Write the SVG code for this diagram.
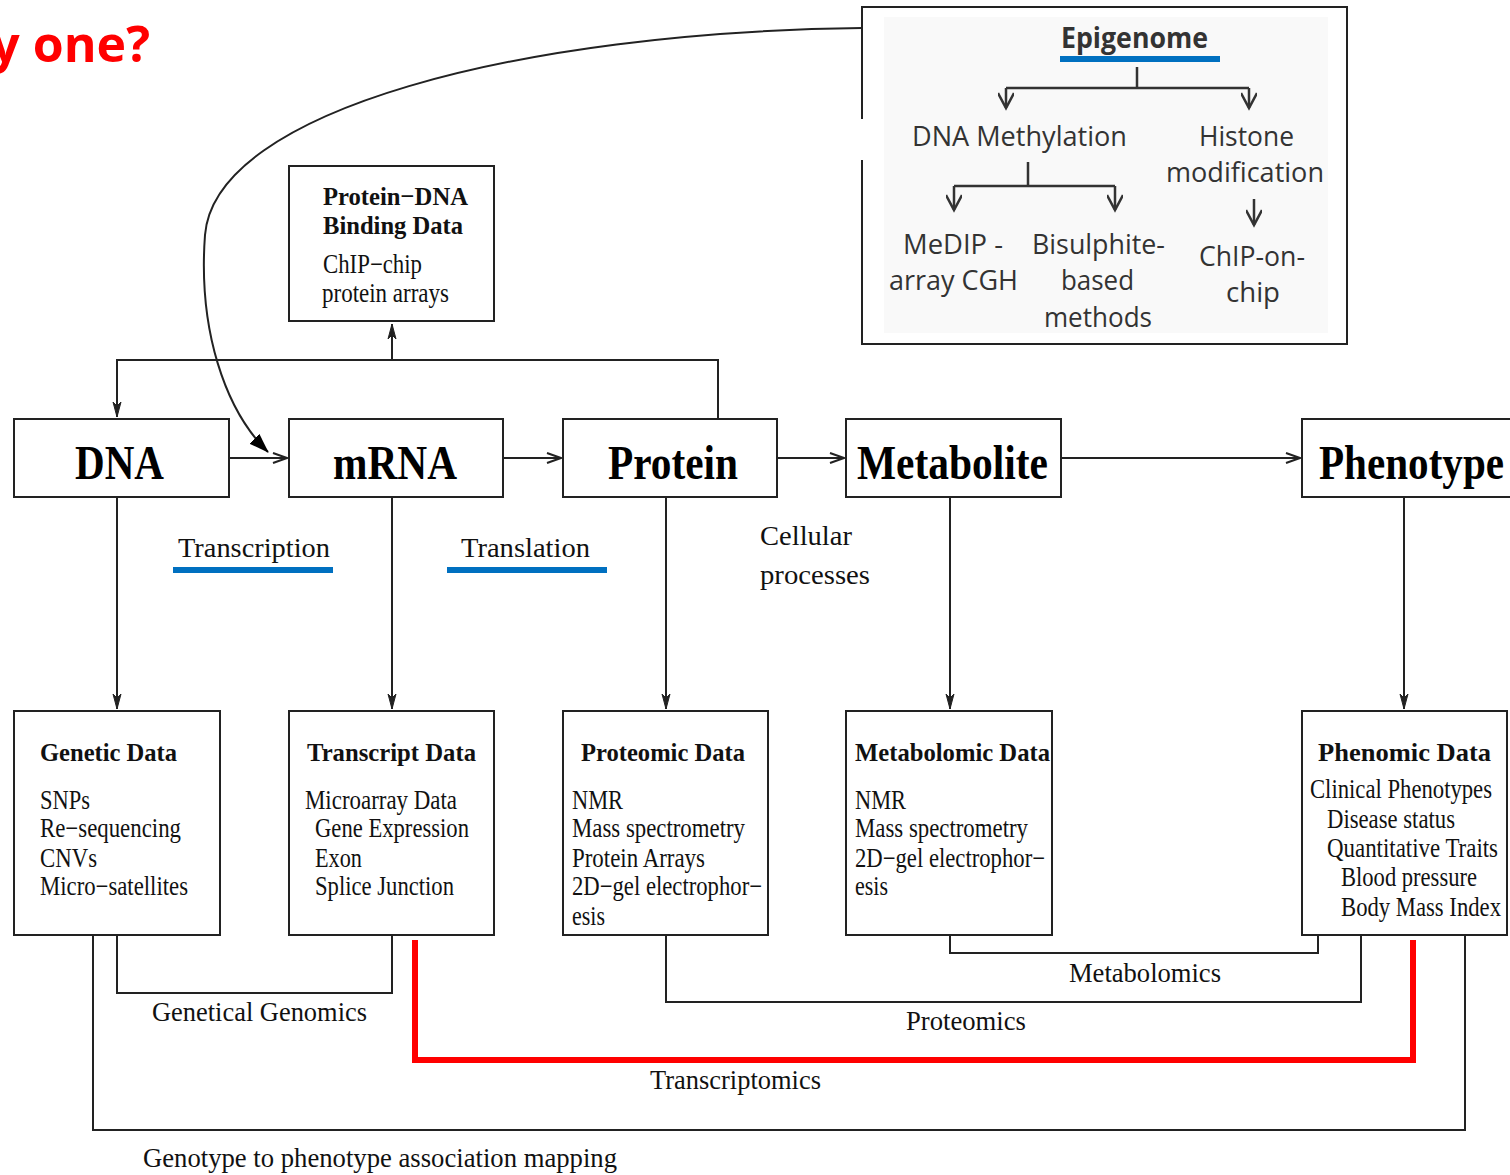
<svg xmlns="http://www.w3.org/2000/svg" width="1510" height="1175" viewBox="0 0 1510 1175">
<style>
.box{fill:#fff;stroke:#222;stroke-width:2}
.ln{fill:none;stroke:#222;stroke-width:2}
.big{font-family:"Liberation Serif",serif;font-weight:bold;font-size:48px;fill:#000}
.t{font-family:"Liberation Serif",serif;font-size:27px;fill:#111}
.tb{font-family:"Liberation Serif",serif;font-size:26px;font-weight:bold;fill:#111}
.ep{font-family:"Open Sans","Liberation Sans",sans-serif;font-size:27px;fill:#333}
.epb{font-family:"Open Sans","Liberation Sans",sans-serif;font-size:28px;font-weight:bold;fill:#333}
.blue{fill:#0070c0}
</style>
<defs>
<marker id="arr" viewBox="0 0 16 12" refX="15" refY="6" markerWidth="16" markerHeight="12" markerUnits="userSpaceOnUse" orient="auto">
<path d="M1,1 L15,6 L1,11" fill="none" stroke="#222" stroke-width="2"/>
</marker>
<marker id="arrv" viewBox="0 0 16 10" refX="15" refY="5" markerWidth="16" markerHeight="10" markerUnits="userSpaceOnUse" orient="auto">
<path d="M0,1 L15,5 L0,9 L4,5 Z" fill="#222" stroke="#222" stroke-width="1"/>
</marker>
<marker id="fill" viewBox="0 0 20 14" refX="19" refY="7" markerWidth="20" markerHeight="14" markerUnits="userSpaceOnUse" orient="auto">
<path d="M0,0 L20,7 L0,14 Z" fill="#000"/>
</marker>
<marker id="epi" viewBox="0 0 20 16" refX="16" refY="8" markerWidth="20" markerHeight="16" markerUnits="userSpaceOnUse" orient="auto">
<path d="M1,0 L16,8 L1,16" fill="none" stroke="#333" stroke-width="2.5"/>
</marker>
</defs>
<rect width="1510" height="1175" fill="#fff"/>

<text x="150" y="62" text-anchor="end" font-family="'Open Sans','Liberation Sans',sans-serif" font-weight="bold" font-size="50" fill="#ff0000">y one?</text>

<g id="epigenome">
<rect x="862" y="7" width="485" height="337" class="box"/>
<rect x="884" y="17" width="444" height="316" fill="#f9f9f9"/>
<rect x="858" y="119" width="8" height="41" fill="#fff"/>
<text class="epb" x="1061" y="48" textLength="147" lengthAdjust="spacingAndGlyphs">Epigenome</text>
<rect x="1060" y="56" width="160" height="6" class="blue"/>
<g fill="none" stroke="#333" stroke-width="2.5">
<path d="M1137,67 V88"/>
<path d="M1006,88 H1249"/>
<path d="M1006,88 V108" marker-end="url(#epi)"/>
<path d="M1249,88 V108" marker-end="url(#epi)"/>
<path d="M1028,162 V186"/>
<path d="M954,186 H1115"/>
<path d="M954,186 V210" marker-end="url(#epi)"/>
<path d="M1115,186 V210" marker-end="url(#epi)"/>
<path d="M1254,199 V225" marker-end="url(#epi)"/>
</g>
<text class="ep" x="912" y="146" textLength="215" lengthAdjust="spacingAndGlyphs">DNA Methylation</text>
<text class="ep" x="1199" y="146" textLength="95" lengthAdjust="spacingAndGlyphs">Histone</text>
<text class="ep" x="1166" y="182" textLength="158" lengthAdjust="spacingAndGlyphs">modification</text>
<text class="ep" x="903" y="254" textLength="100" lengthAdjust="spacingAndGlyphs">MeDIP -</text>
<text class="ep" x="889" y="290" textLength="129" lengthAdjust="spacingAndGlyphs">array CGH</text>
<text class="ep" x="1032" y="254" textLength="133" lengthAdjust="spacingAndGlyphs">Bisulphite-</text>
<text class="ep" x="1061" y="290" textLength="73" lengthAdjust="spacingAndGlyphs">based</text>
<text class="ep" x="1044" y="327" textLength="108" lengthAdjust="spacingAndGlyphs">methods</text>
<text class="ep" x="1199" y="266" textLength="106" lengthAdjust="spacingAndGlyphs">ChIP-on-</text>
<text class="ep" x="1226" y="302" textLength="54" lengthAdjust="spacingAndGlyphs">chip</text>
</g>

<g id="connectors">
<path class="ln" d="M862,28 C520,32 215,110 205,235 C198,330 225,410 268,452" marker-end="url(#fill)"/>
<path class="ln" d="M718,419 V360 H117 V417" marker-end="url(#arrv)"/>
<path class="ln" d="M392,360 V324" marker-end="url(#arrv)"/>
<path class="ln" d="M229,458 H287" marker-end="url(#arr)"/>
<path class="ln" d="M503,458 H561" marker-end="url(#arr)"/>
<path class="ln" d="M777,458 H844" marker-end="url(#arr)"/>
<path class="ln" d="M1061,458 H1300" marker-end="url(#arr)"/>
<path class="ln" d="M117,497 V709" marker-end="url(#arrv)"/>
<path class="ln" d="M392,497 V709" marker-end="url(#arrv)"/>
<path class="ln" d="M666,497 V709" marker-end="url(#arrv)"/>
<path class="ln" d="M950,497 V709" marker-end="url(#arrv)"/>
<path class="ln" d="M1404,497 V709" marker-end="url(#arrv)"/>
<path class="ln" d="M117,935 V993 H392 V935"/>
<path class="ln" d="M93,935 V1130 H1465 V935"/>
<path class="ln" d="M666,935 V1002 H1361 V935"/>
<path class="ln" d="M950,935 V953 H1318 V935"/>
<path d="M415,940 V1060 H1413 V940" fill="none" stroke="#ff0000" stroke-width="6"/>
</g>

<g id="protein-dna">
<rect x="289" y="166" width="205" height="155" class="box"/>
<text class="tb" x="323" y="205" textLength="145" lengthAdjust="spacingAndGlyphs">Protein−DNA</text>
<text class="tb" x="323" y="234" textLength="140" lengthAdjust="spacingAndGlyphs">Binding Data</text>
<text class="t" x="323" y="273" textLength="99" lengthAdjust="spacingAndGlyphs">ChIP−chip</text>
<text class="t" x="322" y="302" textLength="127" lengthAdjust="spacingAndGlyphs">protein arrays</text>
</g>

<g id="dna">
<rect x="14" y="419" width="215" height="78" class="box"/>
<text class="big" x="75" y="479" textLength="89" lengthAdjust="spacingAndGlyphs">DNA</text>
</g>
<g id="mrna">
<rect x="289" y="419" width="214" height="78" class="box"/>
<text class="big" x="333" y="479" textLength="124" lengthAdjust="spacingAndGlyphs">mRNA</text>
</g>
<g id="protein">
<rect x="563" y="419" width="214" height="78" class="box"/>
<text class="big" x="608" y="479" textLength="130" lengthAdjust="spacingAndGlyphs">Protein</text>
</g>
<g id="metabolite">
<rect x="846" y="419" width="215" height="78" class="box"/>
<text class="big" x="857" y="479" textLength="191" lengthAdjust="spacingAndGlyphs">Metabolite</text>
</g>
<g id="phenotype">
<rect x="1302" y="419" width="215" height="78" class="box"/>
<text class="big" x="1319" y="479" textLength="185" lengthAdjust="spacingAndGlyphs">Phenotype</text>
</g>

<g id="labels">
<text class="t" x="178" y="557" textLength="152" lengthAdjust="spacingAndGlyphs">Transcription</text>
<rect x="173" y="567" width="160" height="6" class="blue"/>
<text class="t" x="461" y="557" textLength="129" lengthAdjust="spacingAndGlyphs">Translation</text>
<rect x="447" y="567" width="160" height="6" class="blue"/>
<text class="t" x="760" y="545" textLength="92" lengthAdjust="spacingAndGlyphs">Cellular</text>
<text class="t" x="760" y="584" textLength="110" lengthAdjust="spacingAndGlyphs">processes</text>
<text class="t" x="152" y="1021" textLength="215" lengthAdjust="spacingAndGlyphs">Genetical Genomics</text>
<text class="t" x="1069" y="982" textLength="152" lengthAdjust="spacingAndGlyphs">Metabolomics</text>
<text class="t" x="906" y="1030" textLength="120" lengthAdjust="spacingAndGlyphs">Proteomics</text>
<text class="t" x="650" y="1089" textLength="171" lengthAdjust="spacingAndGlyphs">Transcriptomics</text>
<text class="t" x="143" y="1167" textLength="474" lengthAdjust="spacingAndGlyphs">Genotype to phenotype association mapping</text>
</g>

<g id="genetic-data">
<rect x="14" y="711" width="206" height="224" class="box"/>
<text class="tb" x="40" y="761" textLength="137" lengthAdjust="spacingAndGlyphs">Genetic Data</text>
<text class="t" x="40" y="809" textLength="50" lengthAdjust="spacingAndGlyphs">SNPs</text>
<text class="t" x="40" y="837" textLength="141" lengthAdjust="spacingAndGlyphs">Re−sequencing</text>
<text class="t" x="40" y="867" textLength="57" lengthAdjust="spacingAndGlyphs">CNVs</text>
<text class="t" x="40" y="895" textLength="148" lengthAdjust="spacingAndGlyphs">Micro−satellites</text>
</g>
<g id="transcript-data">
<rect x="289" y="711" width="205" height="224" class="box"/>
<text class="tb" x="307" y="761" textLength="169" lengthAdjust="spacingAndGlyphs">Transcript Data</text>
<text class="t" x="305" y="809" textLength="152" lengthAdjust="spacingAndGlyphs">Microarray Data</text>
<text class="t" x="315" y="837" textLength="154" lengthAdjust="spacingAndGlyphs">Gene Expression</text>
<text class="t" x="315" y="867" textLength="47" lengthAdjust="spacingAndGlyphs">Exon</text>
<text class="t" x="315" y="895" textLength="139" lengthAdjust="spacingAndGlyphs">Splice Junction</text>
</g>
<g id="proteomic-data">
<rect x="563" y="711" width="205" height="224" class="box"/>
<text class="tb" x="581" y="761" textLength="164" lengthAdjust="spacingAndGlyphs">Proteomic Data</text>
<text class="t" x="572" y="809" textLength="51" lengthAdjust="spacingAndGlyphs">NMR</text>
<text class="t" x="572" y="837" textLength="173" lengthAdjust="spacingAndGlyphs">Mass spectrometry</text>
<text class="t" x="572" y="867" textLength="133" lengthAdjust="spacingAndGlyphs">Protein Arrays</text>
<text class="t" x="572" y="895" textLength="190" lengthAdjust="spacingAndGlyphs">2D−gel electrophor−</text>
<text class="t" x="572" y="925" textLength="33" lengthAdjust="spacingAndGlyphs">esis</text>
</g>
<g id="metabolomic-data">
<rect x="846" y="711" width="206" height="224" class="box"/>
<text class="tb" x="855" y="761" textLength="195" lengthAdjust="spacingAndGlyphs">Metabolomic Data</text>
<text class="t" x="855" y="809" textLength="51" lengthAdjust="spacingAndGlyphs">NMR</text>
<text class="t" x="855" y="837" textLength="173" lengthAdjust="spacingAndGlyphs">Mass spectrometry</text>
<text class="t" x="855" y="867" textLength="190" lengthAdjust="spacingAndGlyphs">2D−gel electrophor−</text>
<text class="t" x="855" y="895" textLength="33" lengthAdjust="spacingAndGlyphs">esis</text>
</g>
<g id="phenomic-data">
<rect x="1302" y="711" width="205" height="224" class="box"/>
<text class="tb" x="1318" y="761" textLength="173" lengthAdjust="spacingAndGlyphs">Phenomic Data</text>
<text class="t" x="1310" y="798" textLength="182" lengthAdjust="spacingAndGlyphs">Clinical Phenotypes</text>
<text class="t" x="1327" y="828" textLength="128" lengthAdjust="spacingAndGlyphs">Disease status</text>
<text class="t" x="1327" y="857" textLength="171" lengthAdjust="spacingAndGlyphs">Quantitative Traits</text>
<text class="t" x="1341" y="886" textLength="136" lengthAdjust="spacingAndGlyphs">Blood pressure</text>
<text class="t" x="1341" y="916" textLength="160" lengthAdjust="spacingAndGlyphs">Body Mass Index</text>
</g>
</svg>
